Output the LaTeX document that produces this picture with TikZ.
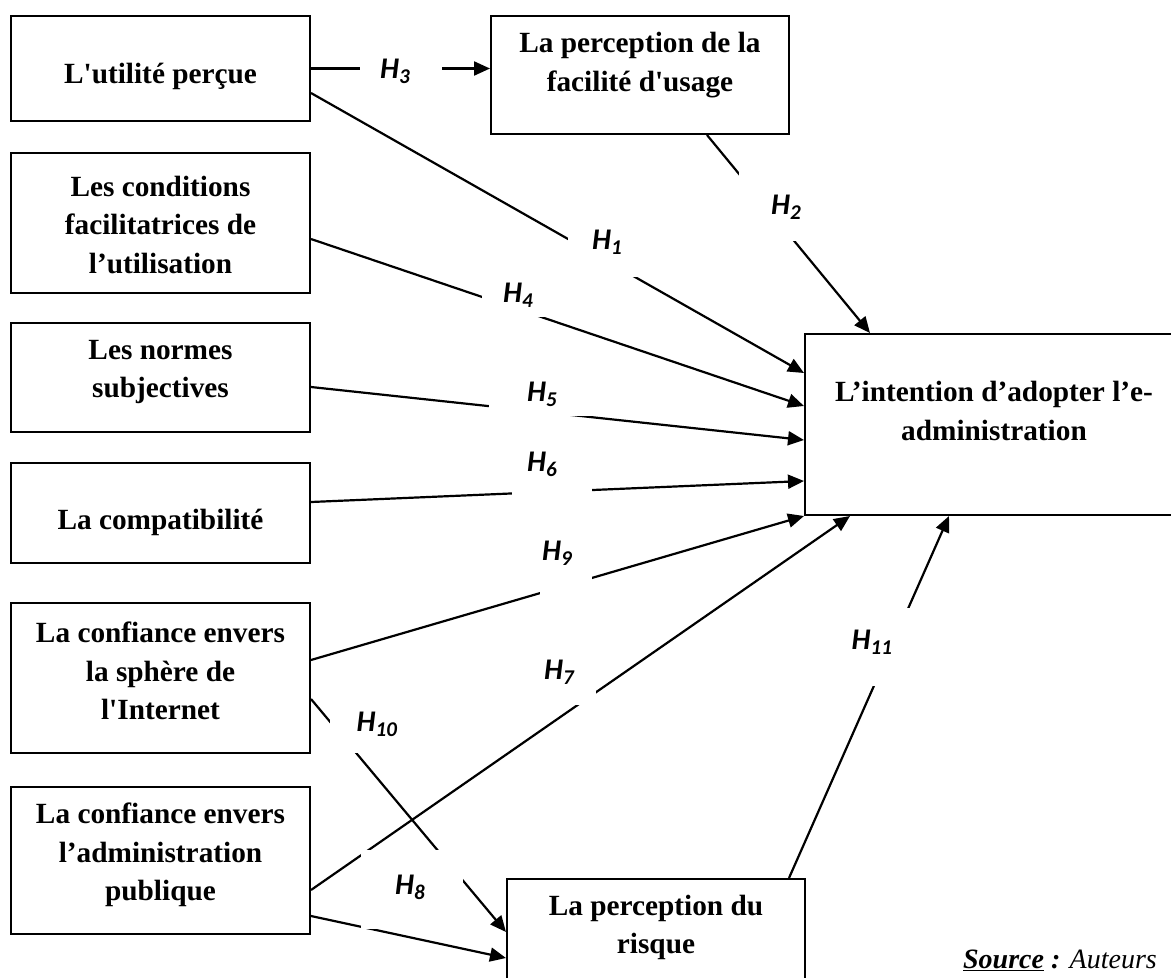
\documentclass[tikz,border=0pt]{standalone}
\usepackage{fontspec}
\setmainfont{Liberation Serif}[Ligatures=TeXOff]
\newfontfamily\hypfont{Carlito}
\usetikzlibrary{arrows.meta}

\begin{document}
\begin{tikzpicture}[x=1pt, y=-1pt,
  box/.style={draw, line width=2pt, minimum width=299pt},
  boxtext/.style={align=center, font=\bfseries\fontsize{29.3}{38.5}\selectfont},
  arr/.style={line width=2.2pt, -{Triangle[length=16pt,width=14pt]}},
  hyp/.style={fill=white, inner sep=0pt, anchor=base west,
    font=\hypfont\bfseries\itshape\fontsize{30}{32}\selectfont}]
\useasboundingbox (0,0) rectangle (1171,978);
\clip (0,0) rectangle (1171,978);

% Left column
\node[box, minimum height=105pt, label={[boxtext,yshift=-7.5pt]center:L'utilité perçue}] (utilite) at (160.5,68.5) {};
\node[box, minimum height=140pt, label={[boxtext,yshift=-2pt]center:{Les conditions\\facilitatrices de\\l’utilisation}}] (conditions) at (160.5,223) {};
\node[box, minimum height=109pt, label={[boxtext,yshift=5.5pt]center:{Les normes\\subjectives}}] (normes) at (160.5,377.5) {};
\node[box, minimum height=100pt, label={[boxtext,yshift=-9pt]center:La compatibilité}] (compat) at (160.5,513) {};
\node[box, minimum height=150pt, label={[boxtext,yshift=7pt]center:{La confiance envers\\la sphère de\\l'Internet}}] (internet) at (160.5,678) {};
\node[box, minimum height=147pt, label={[boxtext,yshift=5.5pt]center:{La confiance envers\\l’administration\\publique}}] (admin) at (160.5,860.5) {};

% Other boxes
\node[box, minimum width=298pt, minimum height=118pt, label={[boxtext,yshift=10pt]center:{La perception de la\\facilité d'usage}}] (facilite) at (640,75) {};
\node[box, minimum width=378pt, minimum height=181pt, label={[boxtext,yshift=13.5pt]center:{L’intention d’adopter l’e-\\administration}}] (intention) at (994,424.5) {};
\node[box, minimum width=298pt, minimum height=106pt, label={[boxtext,yshift=4.5pt]center:{La perception du\\risque}}] (risque) at (656,932) {};

% Arrows
\draw[arr] (utilite.east) -- (utilite.east -| facilite.west);
\draw[arr] ([yshift=-24.5pt]utilite.east) -- ([yshift=51.5pt]intention.west);
\draw[arr] ([xshift=67pt]facilite.south) -- ([xshift=-124pt]intention.north);
\draw[arr] ([yshift=-16pt]conditions.east) -- ([yshift=18.5pt]intention.west);
\draw[arr] ([yshift=-9.5pt]normes.east) -- ([yshift=-15.5pt]intention.west);
\draw[arr] ([yshift=11pt]compat.east) -- ([yshift=-56.5pt]intention.west);
\draw[arr] ([yshift=18pt]internet.east) -- (intention.south west);
\draw[arr] ([yshift=-29.5pt]admin.east) -- ([xshift=-144pt]intention.south);
\draw[arr] ([yshift=-21pt]internet.east) -- (risque.west);
\draw[arr] ([yshift=-55.5pt]admin.east) -- ([yshift=-26pt]risque.west);
\draw[arr] ([xshift=133pt]risque.north) -- ([xshift=-45pt]intention.south);

% Hypotheses
\node[hyp, text height=23pt, text depth=7pt] (h3) at (360,78) {\hspace*{20pt}H\textsubscript{3}\hspace*{32pt}};
\node[hyp, text height=23pt, text depth=28pt] (h1) at (568,249) {\hspace*{24pt}H\textsubscript{1}\hspace*{24pt}};
\node[hyp, text height=49pt, text depth=27pt] (h2) at (739,214) {\hspace*{32pt}H\textsubscript{2}\hspace*{32pt}};
\node[hyp, text height=22pt, text depth=15pt] (h4) at (482,302) {\hspace*{21pt}H\textsubscript{4}\hspace*{21pt}};
\node[hyp, text height=23pt, text depth=15pt] (h5) at (489,401) {\hspace*{38pt}H\textsubscript{5}\hspace*{38pt}};
\node[hyp, text height=26pt, text depth=29pt] (h6) at (512,471) {\hspace*{15pt}H\textsubscript{6}\hspace*{35pt}};
\node[hyp, text height=30pt, text depth=40pt] (h9) at (540,560) {\hspace*{2pt}H\textsubscript{9}\hspace*{20pt}};
\node[hyp, text height=24pt, text depth=26pt] (h7) at (540,679) {\hspace*{4pt}H\textsubscript{7}\hspace*{22pt}};
\node[hyp, text height=31pt, text depth=22pt] (h10) at (330,731) {\hspace*{26.5pt}H\textsubscript{10}\hspace*{26.5pt}};
\node[hyp, text height=44pt, text depth=35pt] (h8) at (361,894) {\hspace*{34pt}H\textsubscript{8}\hspace*{38pt}};
\node[hyp, text height=41pt, text depth=37pt] (h11) at (840,649) {\hspace*{11.5pt}H\textsubscript{11}\hspace*{21.5pt}};

% Source
\node[font=\itshape\fontsize{28}{30}\selectfont, anchor=base] (source) at (1060,968) {\textbf{\underline{Source} :} Auteurs};
\end{tikzpicture}
\end{document}
